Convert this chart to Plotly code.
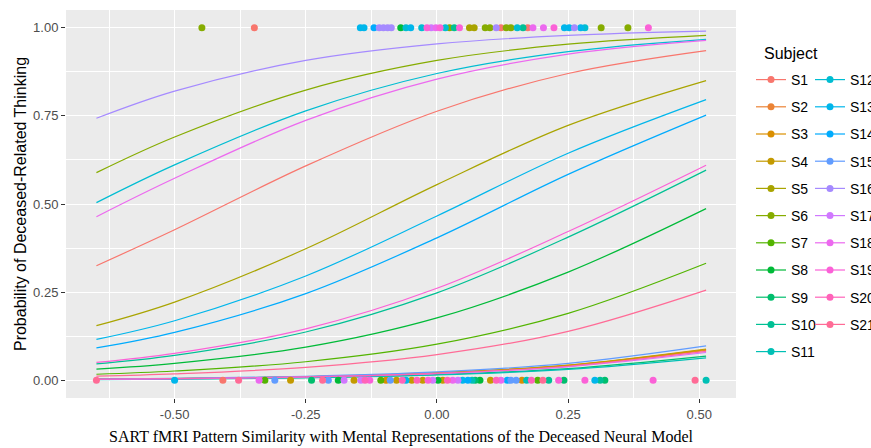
import math
import plotly.graph_objects as go

# ---------------- data ----------------
subjects = [f"S{i}" for i in range(1, 22)]

curve_x = [-0.649, -0.5, -0.25, 0.0, 0.25, 0.513]

p_S1 = [0.325, 0.427, 0.608, 0.763, 0.870, 0.935]
p_S2 = [0.0032, 0.0049, 0.0101, 0.0206, 0.0415, 0.085]
p_S3 = [0.0033, 0.0050, 0.0103, 0.0211, 0.0425, 0.087]
p_S4 = [0.0033, 0.0052, 0.0106, 0.0216, 0.0435, 0.089]
p_S5 = [0.155, 0.222, 0.373, 0.555, 0.723, 0.850]
p_S6 = [0.589, 0.690, 0.823, 0.907, 0.953, 0.978]
p_S7 = [0.0174, 0.0265, 0.0528, 0.1025, 0.190, 0.332]
p_S8 = [0.0316, 0.048, 0.094, 0.177, 0.307, 0.487]
p_S9 = [0.0025, 0.0039, 0.0080, 0.0165, 0.0334, 0.069]
p_S10 = [0.047, 0.071, 0.137, 0.248, 0.406, 0.596]
p_S11 = [0.0023, 0.0036, 0.0074, 0.0152, 0.0309, 0.064]
p_S12 = [0.504, 0.611, 0.764, 0.870, 0.932, 0.967]
p_S13 = [0.116, 0.169, 0.296, 0.466, 0.644, 0.796]
p_S14 = [0.092, 0.136, 0.246, 0.404, 0.584, 0.752]
p_S15 = [0.0037, 0.0057, 0.0117, 0.0239, 0.0482, 0.098]
p_S16 = [0.743, 0.820, 0.907, 0.954, 0.978, 0.990]
p_S17 = [0.0029, 0.0045, 0.0093, 0.0190, 0.0385, 0.079]
p_S18 = [0.464, 0.573, 0.737, 0.854, 0.925, 0.964]
p_S19 = [0.051, 0.0766, 0.146, 0.261, 0.422, 0.610]
p_S20 = [0.0031, 0.0047, 0.0097, 0.0198, 0.0400, 0.082]
p_S21 = [0.0121, 0.0184, 0.037, 0.073, 0.139, 0.256]

# observed responses: deceased-related thinking = 1
top_x = [-0.448, -0.348, -0.146, -0.139, -0.120, -0.110, -0.102, -0.094, -0.087,
         -0.069, -0.059, -0.050, -0.029, -0.019, -0.011, -0.002, 0.006, 0.016,
         0.024, 0.033, 0.043, 0.062, 0.071, 0.092, 0.101, 0.113, 0.122, 0.132,
         0.141, 0.153, 0.164, 0.173, 0.183, 0.203, 0.223, 0.243, 0.252, 0.262,
         0.274, 0.282, 0.313, 0.364, 0.403]
top_subj = ["S6", "S1", "S13", "S13", "S14", "S16", "S16", "S16", "S16",
            "S8", "S12", "S13", "S12", "S19", "S17", "S18", "S19", "S12",
            "S6", "S10", "S19", "S5", "S5", "S6", "S6", "S16", "S1", "S6",
            "S6", "S12", "S10", "S1", "S18", "S18", "S19", "S13", "S13", "S16",
            "S13", "S12", "S6", "S6", "S19"]

# observed responses: deceased-related thinking = 0
bottom_x = [-0.649, -0.500, -0.408, -0.378, -0.339, -0.328, -0.309, -0.279,
            -0.239, -0.218, -0.207, -0.188, -0.177, -0.158, -0.145, -0.137,
            -0.128, -0.107, -0.097, -0.089, -0.077, -0.066, -0.059, -0.048,
            -0.038, -0.027, -0.017, -0.008, 0.002, 0.011, 0.020, 0.030, 0.040,
            0.049, 0.059, 0.067, 0.073, 0.082, 0.102, 0.113, 0.122, 0.134,
            0.141, 0.151, 0.162, 0.171, 0.180, 0.192, 0.202, 0.213, 0.232,
            0.242, 0.282, 0.301, 0.311, 0.320, 0.412, 0.492, 0.513]
bottom_subj = ["S21", "S13", "S1", "S21", "S18", "S7", "S15", "S4",
               "S9", "S21", "S15", "S8", "S17", "S4", "S17", "S20",
               "S19", "S7", "S3", "S15", "S4", "S20", "S13", "S4",
               "S20", "S4", "S19", "S17", "S8", "S4", "S20", "S18", "S17",
               "S13", "S14", "S11", "S9", "S8", "S4", "S20", "S18", "S14",
               "S15", "S15", "S3", "S11", "S20", "S7", "S21", "S10", "S19",
               "S9", "S19", "S13", "S10", "S9", "S19", "S21", "S11"]

x_tick_vals = [-0.5, -0.25, 0.0, 0.25, 0.5]
x_tick_text = ["-0.50", "-0.25", "0.00", "0.25", "0.50"]
y_tick_vals = [0.0, 0.25, 0.5, 0.75, 1.0]
y_tick_text = ["0.00", "0.25", "0.50", "0.75", "1.00"]

curves = [p_S1, p_S2, p_S3, p_S4, p_S5, p_S6, p_S7, p_S8, p_S9, p_S10, p_S11,
          p_S12, p_S13, p_S14, p_S15, p_S16, p_S17, p_S18, p_S19, p_S20, p_S21]


# ---------------- ggplot2 default hue palette ----------------
def hcl_hex(h, c=100.0, l=65.0):
    wx, wy, wz = 95.047, 100.0, 108.883
    t = wx + wy + wz
    xn, yn = wx / t, wy / t
    un = 2 * xn / (6 * yn - xn + 1.5)
    vn = 4.5 * yn / (6 * yn - xn + 1.5)
    hr = math.radians(h)
    U, V = c * math.cos(hr), c * math.sin(hr)
    Y = wy * ((l + 16) / 116) ** 3
    u = U / (13 * l) + un
    v = V / (13 * l) + vn
    X = 9.0 * Y * u / (4 * v)
    Z = -X / 3 - 5 * Y + 3 * Y / v

    def g(val):
        return 1.055 * val ** (1 / 2.4) - 0.055 if val > 0.00304 else 12.92 * val

    r = g((3.240479 * X - 1.537150 * Y - 0.498535 * Z) / wy)
    gg = g((-0.969256 * X + 1.875992 * Y + 0.041556 * Z) / wy)
    b = g((0.055648 * X - 0.204043 * Y + 1.057311 * Z) / wy)
    comps = [max(0, min(255, round(255 * max(0.0, min(1.0, k))))) for k in (r, gg, b)]
    return "#{:02X}{:02X}{:02X}".format(*comps)


n = len(subjects)
colors = {s: hcl_hex(15 + 360 * i / n) for i, s in enumerate(subjects)}

SANS = "Liberation Sans, Arial, Helvetica, sans-serif"
SERIF = "Liberation Serif, Times New Roman, serif"

fig = go.Figure()

# fitted curves
for s, yv in zip(subjects, curves):
    fig.add_trace(go.Scatter(
        x=curve_x, y=yv, mode="lines", line=dict(color=colors[s], width=1.2, shape="spline"),
        legendgroup=s, showlegend=False, hoverinfo="skip"))

# observed points
for s in subjects:
    xs = [x for x, ss in zip(top_x, top_subj) if ss == s] + \
         [x for x, ss in zip(bottom_x, bottom_subj) if ss == s]
    ys = [1.0] * sum(1 for ss in top_subj if ss == s) + \
         [0.0] * sum(1 for ss in bottom_subj if ss == s)
    if xs:
        fig.add_trace(go.Scatter(
            x=xs, y=ys, mode="markers", marker=dict(color=colors[s], size=7),
            legendgroup=s, showlegend=False))

# legend keys
for i, s in enumerate(subjects):
    fig.add_trace(go.Scatter(
        x=[None], y=[None], mode="lines+markers", name=s,
        line=dict(color=colors[s], width=1.2), marker=dict(color=colors[s], size=7),
        legendgroup=s, showlegend=True, legend="legend" if i < 11 else "legend2"))

axis_common = dict(
    showgrid=True, gridcolor="white", gridwidth=1.1, zeroline=False, showline=False,
    ticks="outside", ticklen=4, tickwidth=1, tickcolor="#333333", automargin=False,
    tickfont=dict(family=SANS, size=13, color="#4D4D4D"),
)

legend_common = dict(
    xanchor="left", yanchor="top",
    font=dict(family=SANS, size=14, color="black"),
    tracegroupgap=6, bgcolor="rgba(0,0,0,0)", traceorder="grouped")

fig.update_layout(
    width=871, height=448,
    margin=dict(l=66, r=135, t=10, b=50, autoexpand=False),
    plot_bgcolor="#EBEBEB", paper_bgcolor="white",
    font=dict(family=SANS),
    xaxis=dict(
        range=[-0.707, 0.570], tickvals=x_tick_vals, ticktext=x_tick_text,
        minor=dict(tickvals=[-0.625, -0.375, -0.125, 0.125, 0.375], showgrid=True,
                   gridcolor="white", gridwidth=0.5, ticks=""),
        title=dict(text="SART fMRI Pattern Similarity with Mental Representations of the Deceased Neural Model",
                   font=dict(family=SERIF, size=16, color="black"), standoff=10),
        **axis_common),
    yaxis=dict(
        range=[-0.05, 1.05], tickvals=y_tick_vals, ticktext=y_tick_text,
        minor=dict(tickvals=[0.125, 0.375, 0.625, 0.875], showgrid=True,
                   gridcolor="white", gridwidth=0.5, ticks=""),
        title=dict(text="Probability of Deceased-Related Thinking",
                   font=dict(family=SANS, size=16, color="black"), standoff=2),
        **axis_common),
    legend=dict(x=(751 - 66) / 670, y=(398 - 64) / 388, **legend_common),
    legend2=dict(x=(810 - 66) / 670, y=(398 - 64) / 388, **legend_common),
    annotations=[dict(text="Subject", xref="paper", yref="paper",
                      x=(762 - 66) / 670, y=(398 - 53) / 388,
                      xanchor="left", yanchor="middle", showarrow=False,
                      font=dict(family=SANS, size=16, color="black"))],
)

# remove the page's default body margin and scrollbars so the figure fills the window
fig.write_html(
    "out.html",
    config={"displayModeBar": False},
    post_script="document.documentElement.style.overflow='hidden';"
                "document.body.style.margin='0';document.body.style.overflow='hidden';",
)
